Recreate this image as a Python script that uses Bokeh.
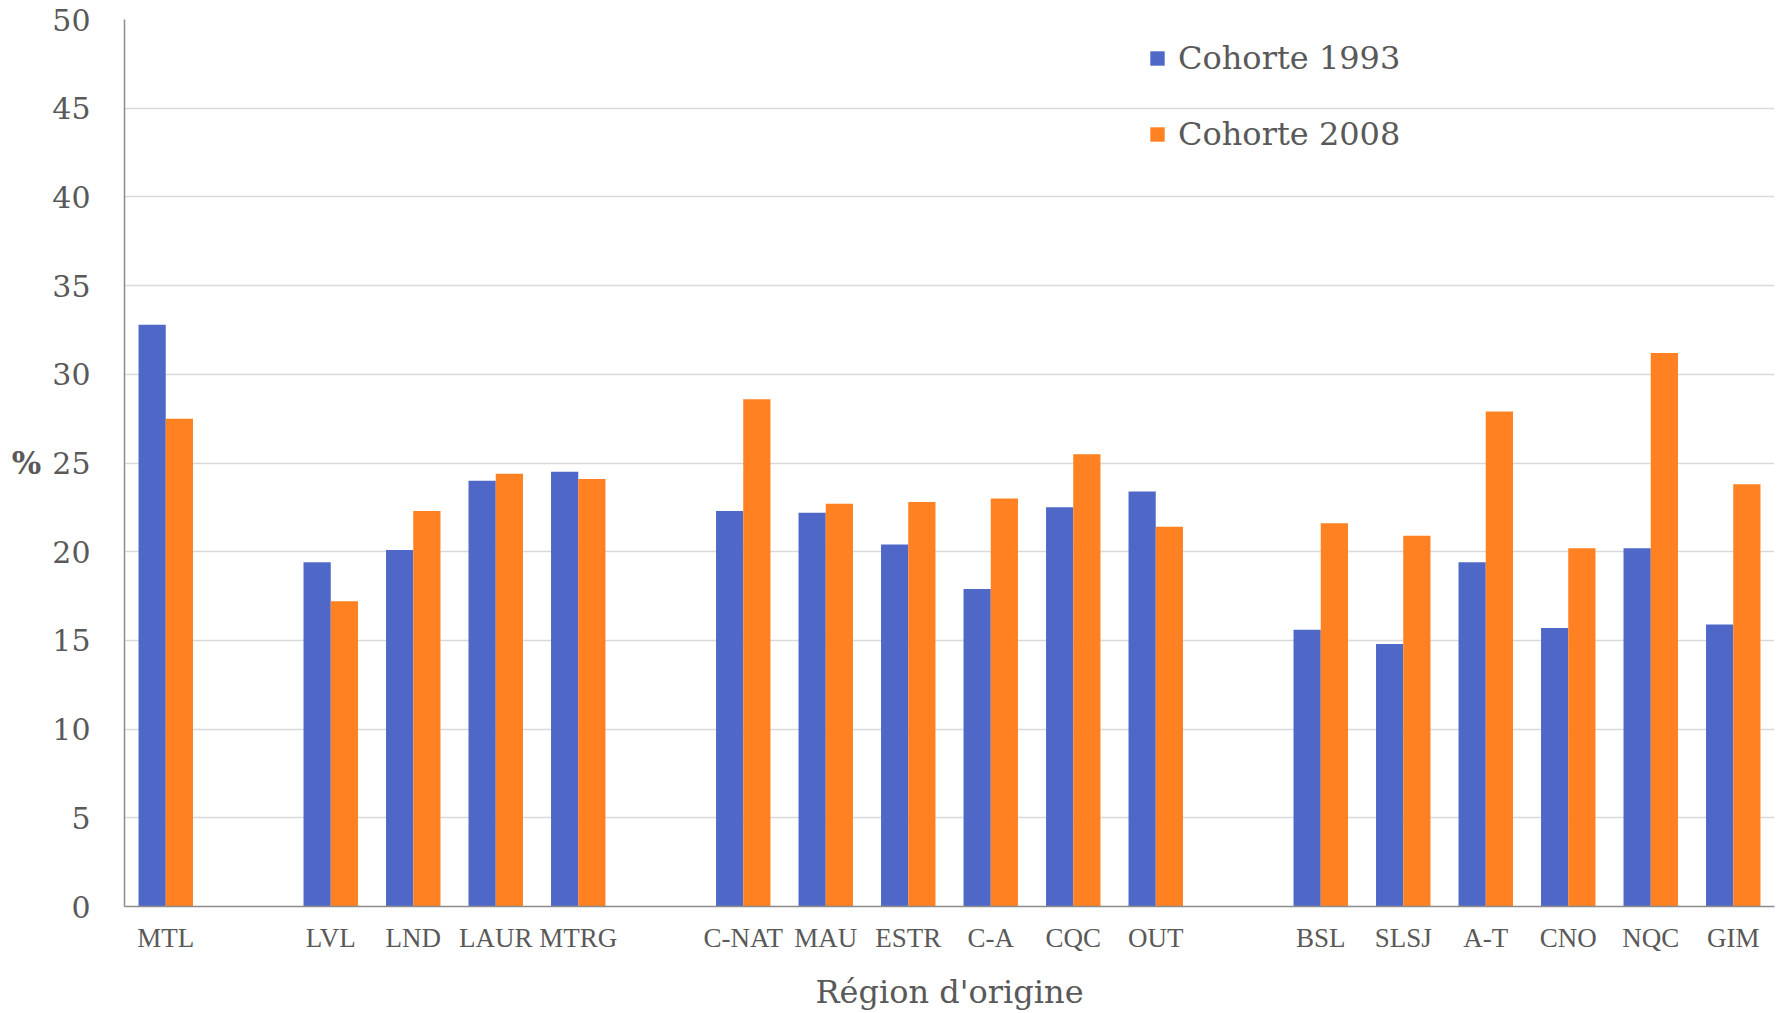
from bokeh.plotting import figure
from bokeh.models import FactorRange, ColumnDataSource, FixedTicker, Legend, LegendItem
from bokeh.transform import dodge
from bokeh.embed import file_html
from bokeh.resources import INLINE

# ---- data ----
categories = ["MTL", " ", "LVL", "LND", "LAUR", "MTRG", "  ",
              "C-NAT", "MAU", "ESTR", "C-A", "CQC", "OUT", "   ",
              "BSL", "SLSJ", "A-T", "CNO", "NQC", "GIM"]
cohorte_1993 = [32.8, None, 19.4, 20.1, 24.0, 24.5, None,
                22.3, 22.2, 20.4, 17.9, 22.5, 23.4, None,
                15.6, 14.8, 19.4, 15.7, 20.2, 15.9]
cohorte_2008 = [27.5, None, 17.2, 22.3, 24.4, 24.1, None,
                28.6, 22.7, 22.8, 23.0, 25.5, 21.4, None,
                21.6, 20.9, 27.9, 20.2, 31.2, 23.8]
series_names = ["Cohorte 1993", "Cohorte 2008"]
y_ticks = [0, 5, 10, 15, 20, 25, 30, 35, 40, 45, 50]
x_title = "Région d'origine"
y_title = "%"

keep = [i for i, v in enumerate(cohorte_1993) if v is not None]
src = ColumnDataSource(dict(
    cat=[categories[i] for i in keep],
    a=[cohorte_1993[i] for i in keep],
    b=[cohorte_2008[i] for i in keep],
))

TEXT = "#595959"
BLUE = "#4F68C8"
ORANGE = "#FF8122"

p = figure(width=1779, height=1013, output_backend="svg", toolbar_location=None,
           x_range=FactorRange(factors=categories, range_padding=0),
           y_range=(0, 50))
p.min_border_left = 124
p.min_border_top = 19
p.min_border_bottom = 107
p.min_border_right = 5
p.outline_line_color = None
p.background_fill_color = "white"
p.border_fill_color = "white"

r1 = p.vbar(x=dodge("cat", -0.165, range=p.x_range), top="a", width=0.33,
            source=src, fill_color=BLUE, line_color=None)
r2 = p.vbar(x=dodge("cat", 0.165, range=p.x_range), top="b", width=0.33,
            source=src, fill_color=ORANGE, line_color=None)

# axes
p.yaxis.ticker = FixedTicker(ticks=y_ticks)
p.yaxis.major_tick_out = 0
p.yaxis.major_tick_in = 0
p.yaxis.major_tick_line_color = None
p.yaxis.minor_tick_line_color = None
p.yaxis.axis_line_color = "#8C8C8C"
p.yaxis.axis_line_width = 1.5
p.yaxis.major_label_text_font = "DejaVu Serif"
p.yaxis.major_label_text_font_size = "30px"
p.yaxis.major_label_text_color = TEXT
p.yaxis.major_label_standoff = 34
p.yaxis.axis_label = y_title
p.yaxis.axis_label_orientation = "horizontal"
p.yaxis.axis_label_text_font = "DejaVu Serif"
p.yaxis.axis_label_text_font_style = "bold"
p.yaxis.axis_label_text_font_size = "31px"
p.yaxis.axis_label_text_color = TEXT
p.yaxis.axis_label_standoff = 8

p.xaxis.major_tick_out = 0
p.xaxis.major_tick_in = 0
p.xaxis.major_tick_line_color = None
p.xaxis.minor_tick_line_color = None
p.xaxis.axis_line_color = "#8C8C8C"
p.xaxis.axis_line_width = 1.5
p.xaxis.major_label_text_font = "Liberation Serif"
p.xaxis.major_label_text_font_size = "27px"
p.xaxis.major_label_text_color = TEXT
p.xaxis.major_label_standoff = 16
p.xaxis.axis_label = x_title
p.xaxis.axis_label_text_font = "DejaVu Serif"
p.xaxis.axis_label_text_font_style = "normal"
p.xaxis.axis_label_text_font_size = "32px"
p.xaxis.axis_label_text_color = TEXT
p.xaxis.axis_label_standoff = 17

p.xgrid.grid_line_color = None
p.ygrid.ticker = FixedTicker(ticks=y_ticks)
p.ygrid.grid_line_color = "#D9D9D9"
p.ygrid.grid_line_width = 1.5

legend = Legend(items=[LegendItem(label=series_names[0], renderers=[r1]),
                       LegendItem(label=series_names[1], renderers=[r2])],
                location=(1024, 752))
legend.padding = 0
legend.margin = 0
legend.spacing = 36
legend.label_height = 40
legend.glyph_height = 18
legend.glyph_width = 18
legend.label_standoff = 12
legend.label_text_font = "DejaVu Serif"
legend.label_text_font_size = "32px"
legend.label_text_color = TEXT
legend.border_line_color = None
legend.background_fill_alpha = 0
p.add_layout(legend, "center")

open("out.html", "w").write(file_html(p, INLINE))
